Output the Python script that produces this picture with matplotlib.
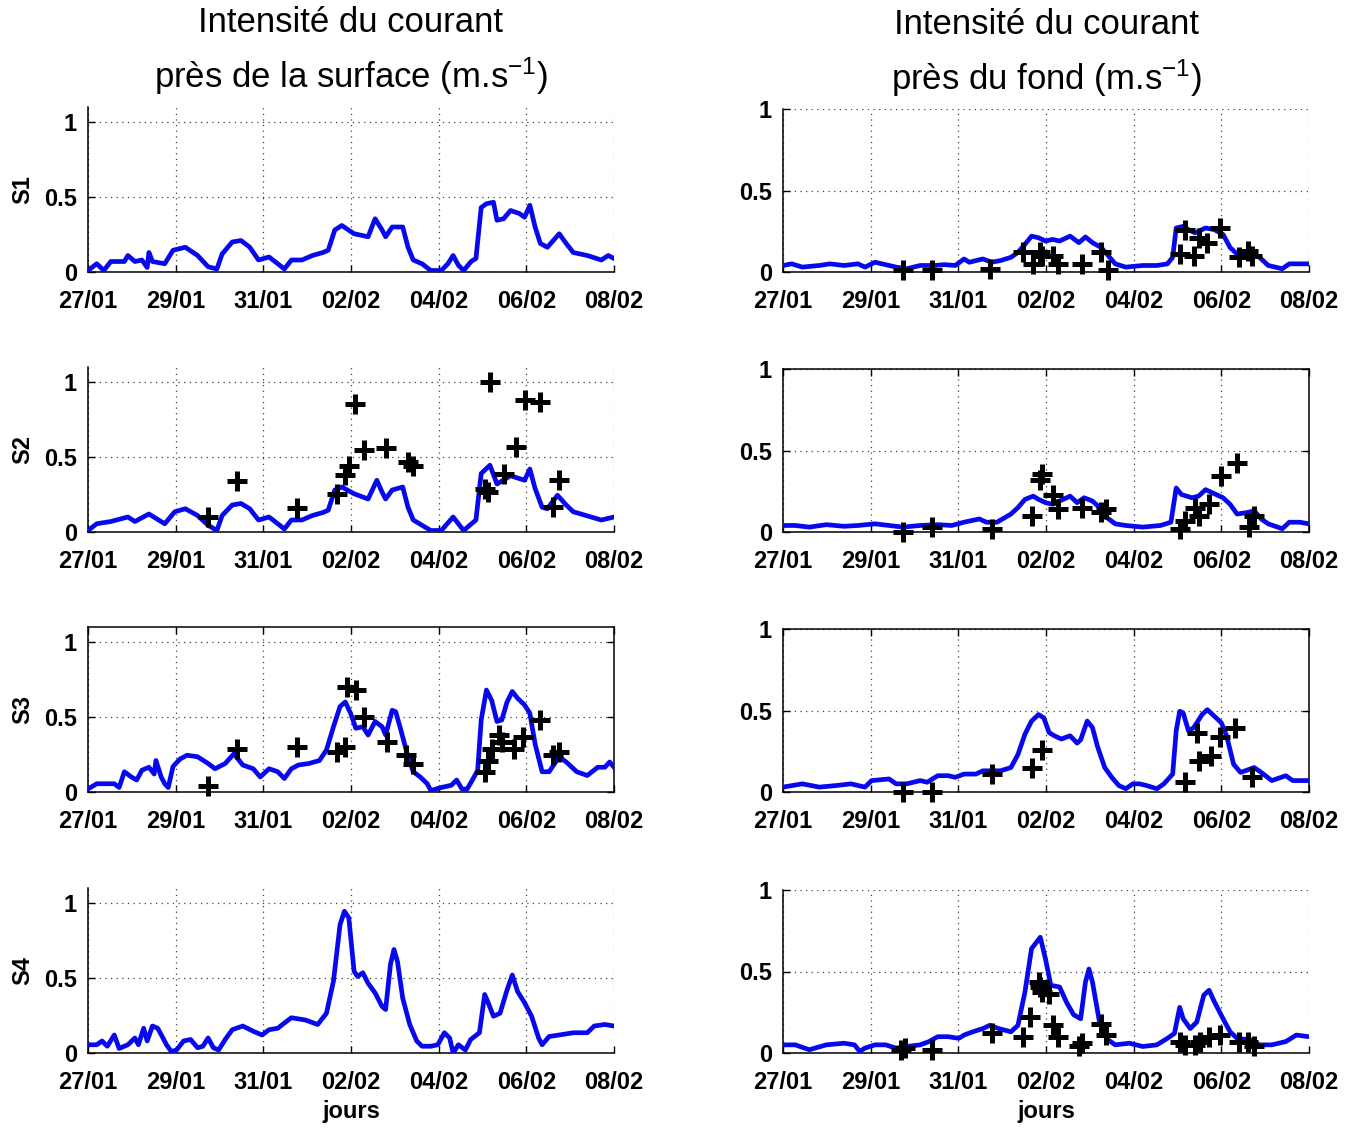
import matplotlib
matplotlib.use("Agg")
import matplotlib.pyplot as plt
from matplotlib.ticker import FormatStrFormatter

plt.rcParams["font.family"] = ["Liberation Sans", "DejaVu Sans"]
plt.rcParams["mathtext.default"] = "regular"

# x axis: days since 27/01 00:00
day_ticks = [0, 2, 4, 6, 8, 10, 12]
day_labels = ["27/01", "29/01", "31/01", "02/02", "04/02", "06/02", "08/02"]
stations = ["S1", "S2", "S3", "S4"]
col_titles = ["Intensité du courant\nprès de la surface (m.s$^{-1}$)",
              "Intensité du courant\nprès du fond (m.s$^{-1}$)"]

# ---- near surface, model (blue lines) ----
t_s1_surf = [0.00, 0.20, 0.36, 0.52, 0.83, 0.91, 1.07, 1.23, 1.35, 1.39, 1.47, 1.75, 1.94, 2.22, 2.50,
             2.74, 2.94, 3.06, 3.29, 3.49, 3.69, 3.89, 4.13, 4.33, 4.48, 4.64, 4.88, 5.12, 5.36, 5.48,
             5.63, 5.79, 6.07, 6.39, 6.55, 6.71, 6.79, 6.94, 7.10, 7.18, 7.30, 7.42, 7.62, 7.82, 8.06,
             8.21, 8.33, 8.45, 8.57, 8.74, 8.85, 8.97, 9.09, 9.25, 9.33, 9.48, 9.64, 9.84, 9.96, 10.08,
             10.20, 10.32, 10.48, 10.75, 10.91, 11.07, 11.39, 11.71, 11.87, 12.00]
v_s1_surf = [0.01, 0.055, 0.01, 0.07, 0.07, 0.11, 0.07, 0.08, 0.03, 0.13, 0.07, 0.055, 0.145, 0.165, 0.11,
             0.035, 0.02, 0.12, 0.20, 0.21, 0.165, 0.08, 0.10, 0.055, 0.02, 0.08, 0.08, 0.11, 0.13, 0.145,
             0.28, 0.31, 0.255, 0.235, 0.355, 0.28, 0.235, 0.30, 0.30, 0.30, 0.165, 0.08, 0.055, 0.01, 0.01,
             0.055, 0.11, 0.045, 0.01, 0.07, 0.09, 0.43, 0.455, 0.465, 0.345, 0.355, 0.41, 0.39, 0.365, 0.445,
             0.30, 0.19, 0.165, 0.255, 0.19, 0.13, 0.11, 0.08, 0.11, 0.09]

t_s2_surf = [0.00, 0.20, 0.52, 0.91, 1.07, 1.39, 1.75, 1.98, 2.22, 2.50, 2.74, 2.94, 3.06, 3.29, 3.49,
             3.69, 3.89, 4.13, 4.33, 4.48, 4.64, 4.88, 5.12, 5.36, 5.48, 5.63, 5.79, 6.07, 6.39, 6.59,
             6.71, 6.79, 6.94, 7.18, 7.30, 7.42, 7.82, 8.06, 8.33, 8.57, 8.85, 8.97, 9.17, 9.33, 9.64,
             9.96, 10.08, 10.20, 10.36, 10.48, 10.71, 10.91, 11.07, 11.71, 12.00]
v_s2_surf = [0.01, 0.055, 0.07, 0.10, 0.07, 0.12, 0.055, 0.135, 0.155, 0.11, 0.045, 0.01, 0.11, 0.18, 0.19,
             0.155, 0.08, 0.10, 0.055, 0.02, 0.08, 0.08, 0.11, 0.13, 0.145, 0.28, 0.30, 0.255, 0.22, 0.345,
             0.265, 0.22, 0.28, 0.30, 0.165, 0.08, 0.01, 0.01, 0.10, 0.01, 0.08, 0.39, 0.445, 0.32, 0.375,
             0.345, 0.42, 0.29, 0.165, 0.155, 0.245, 0.18, 0.135, 0.08, 0.10]

t_s3_surf = [0.00, 0.20, 0.60, 0.71, 0.83, 0.99, 1.11, 1.23, 1.39, 1.51, 1.55, 1.67, 1.75, 1.83, 1.94,
             2.10, 2.26, 2.50, 2.74, 2.90, 3.13, 3.33, 3.45, 3.53, 3.77, 3.93, 4.13, 4.33, 4.48, 4.64,
             4.80, 5.04, 5.28, 5.44, 5.60, 5.75, 5.87, 5.99, 6.11, 6.27, 6.39, 6.55, 6.71, 6.79, 6.94,
             7.02, 7.14, 7.30, 7.42, 7.58, 7.74, 7.82, 8.06, 8.29, 8.41, 8.53, 8.65, 8.77, 8.89, 8.97,
             9.09, 9.21, 9.33, 9.44, 9.56, 9.68, 9.80, 9.96, 10.08, 10.20, 10.36, 10.52, 10.75, 10.91, 11.15,
             11.39, 11.63, 11.79, 11.90, 12.00]
v_s3_surf = [0.02, 0.055, 0.055, 0.03, 0.135, 0.10, 0.08, 0.145, 0.165, 0.12, 0.21, 0.10, 0.055, 0.03, 0.17,
             0.22, 0.245, 0.235, 0.19, 0.155, 0.19, 0.255, 0.21, 0.18, 0.155, 0.10, 0.155, 0.135, 0.09, 0.155,
             0.18, 0.19, 0.21, 0.28, 0.435, 0.57, 0.60, 0.525, 0.425, 0.435, 0.38, 0.47, 0.435, 0.38, 0.545,
             0.535, 0.41, 0.235, 0.135, 0.10, 0.055, 0.01, 0.03, 0.045, 0.08, 0.02, 0.02, 0.08, 0.145, 0.48,
             0.68, 0.61, 0.47, 0.48, 0.60, 0.67, 0.625, 0.58, 0.525, 0.32, 0.135, 0.135, 0.235, 0.20, 0.135,
             0.11, 0.165, 0.165, 0.20, 0.165]

t_s4_surf = [0.00, 0.20, 0.32, 0.44, 0.60, 0.71, 0.91, 1.07, 1.15, 1.27, 1.35, 1.47, 1.59, 1.71, 1.79,
             1.90, 2.02, 2.18, 2.34, 2.50, 2.62, 2.74, 2.86, 2.98, 3.13, 3.29, 3.53, 3.77, 3.97, 4.13,
             4.33, 4.48, 4.64, 4.96, 5.24, 5.44, 5.60, 5.75, 5.85, 5.95, 6.07, 6.15, 6.27, 6.39, 6.55,
             6.71, 6.79, 6.90, 6.98, 7.06, 7.18, 7.34, 7.50, 7.62, 7.82, 7.98, 8.13, 8.25, 8.33, 8.45,
             8.61, 8.73, 8.93, 9.05, 9.13, 9.25, 9.40, 9.56, 9.68, 9.80, 9.96, 10.12, 10.28, 10.36, 10.52,
             10.75, 11.07, 11.39, 11.55, 11.79, 12.00]
v_s4_surf = [0.055, 0.055, 0.08, 0.045, 0.12, 0.03, 0.055, 0.10, 0.055, 0.165, 0.08, 0.18, 0.165, 0.10, 0.055,
             0.01, 0.02, 0.08, 0.09, 0.035, 0.045, 0.10, 0.035, 0.02, 0.09, 0.155, 0.18, 0.145, 0.12, 0.155,
             0.165, 0.20, 0.235, 0.22, 0.19, 0.265, 0.48, 0.855, 0.945, 0.90, 0.545, 0.51, 0.535, 0.465, 0.40,
             0.31, 0.29, 0.59, 0.69, 0.61, 0.365, 0.19, 0.08, 0.045, 0.045, 0.055, 0.135, 0.10, 0.0, 0.055,
             0.02, 0.09, 0.135, 0.39, 0.335, 0.245, 0.265, 0.42, 0.52, 0.41, 0.335, 0.245, 0.10, 0.055, 0.11,
             0.12, 0.135, 0.135, 0.18, 0.19, 0.18]

# ---- near bottom, model (blue lines) ----
t_s1_bot = [0.00, 0.20, 0.44, 0.83, 1.07, 1.39, 1.71, 1.87, 2.10, 2.34, 2.58, 2.82, 3.13, 3.45, 3.69,
            3.93, 4.13, 4.25, 4.56, 4.76, 4.96, 5.20, 5.36, 5.52, 5.67, 5.83, 5.99, 6.15, 6.31, 6.55,
            6.75, 6.90, 7.06, 7.26, 7.42, 7.58, 7.82, 8.21, 8.53, 8.77, 8.89, 8.97, 9.13, 9.25, 9.40,
            9.64, 9.84, 10.04, 10.20, 10.36, 10.67, 10.87, 11.07, 11.39, 11.55, 11.79, 12.00]
v_s1_bot = [0.04, 0.05, 0.03, 0.04, 0.05, 0.04, 0.05, 0.03, 0.06, 0.045, 0.03, 0.02, 0.04, 0.04, 0.045,
            0.04, 0.08, 0.06, 0.08, 0.06, 0.07, 0.09, 0.12, 0.17, 0.22, 0.21, 0.19, 0.20, 0.19, 0.22,
            0.18, 0.215, 0.18, 0.15, 0.10, 0.05, 0.03, 0.04, 0.04, 0.05, 0.09, 0.27, 0.28, 0.26, 0.24,
            0.27, 0.26, 0.23, 0.15, 0.11, 0.11, 0.09, 0.04, 0.02, 0.05, 0.05, 0.05]

t_s2_bot = [0.00, 0.28, 0.60, 0.99, 1.39, 1.71, 2.10, 2.42, 2.74, 3.13, 3.53, 3.85, 4.13, 4.48, 4.64,
            4.88, 5.20, 5.36, 5.52, 5.71, 5.83, 5.99, 6.15, 6.31, 6.55, 6.71, 6.87, 7.06, 7.22, 7.38,
            7.58, 7.82, 8.21, 8.61, 8.85, 8.97, 9.09, 9.33, 9.48, 9.64, 9.80, 10.04, 10.20, 10.36, 10.60,
            10.75, 10.91, 11.07, 11.39, 11.55, 11.79, 12.00]
v_s2_bot = [0.04, 0.04, 0.03, 0.045, 0.035, 0.04, 0.05, 0.04, 0.03, 0.04, 0.045, 0.04, 0.06, 0.08, 0.06,
            0.06, 0.11, 0.15, 0.20, 0.22, 0.20, 0.18, 0.17, 0.19, 0.22, 0.18, 0.21, 0.19, 0.15, 0.09,
            0.05, 0.04, 0.03, 0.04, 0.06, 0.27, 0.23, 0.21, 0.22, 0.26, 0.24, 0.21, 0.17, 0.11, 0.12,
            0.13, 0.08, 0.05, 0.02, 0.06, 0.06, 0.05]

t_s3_bot = [0.00, 0.44, 0.83, 1.23, 1.55, 1.87, 2.02, 2.42, 2.58, 2.82, 3.13, 3.29, 3.53, 3.77, 3.93,
            4.13, 4.40, 4.56, 4.96, 5.20, 5.36, 5.52, 5.67, 5.83, 5.95, 6.07, 6.19, 6.35, 6.55, 6.71,
            6.79, 6.94, 7.06, 7.18, 7.34, 7.50, 7.66, 7.82, 7.98, 8.13, 8.29, 8.53, 8.69, 8.89, 8.97,
            9.05, 9.13, 9.25, 9.37, 9.56, 9.68, 9.84, 10.00, 10.12, 10.28, 10.44, 10.75, 10.91, 11.15, 11.47,
            11.63, 12.00]
v_s3_bot = [0.03, 0.05, 0.03, 0.04, 0.05, 0.03, 0.07, 0.08, 0.05, 0.05, 0.07, 0.06, 0.10, 0.10, 0.09,
            0.11, 0.11, 0.13, 0.13, 0.15, 0.23, 0.355, 0.435, 0.475, 0.455, 0.365, 0.345, 0.325, 0.345, 0.30,
            0.32, 0.435, 0.395, 0.275, 0.15, 0.09, 0.04, 0.02, 0.05, 0.05, 0.04, 0.02, 0.05, 0.11, 0.375,
            0.495, 0.485, 0.375, 0.395, 0.475, 0.505, 0.465, 0.425, 0.345, 0.17, 0.12, 0.15, 0.12, 0.07, 0.10,
            0.07, 0.07]

t_s4_bot = [0.00, 0.28, 0.60, 0.99, 1.39, 1.63, 1.75, 1.87, 2.10, 2.34, 2.58, 2.82, 3.13, 3.33, 3.53,
            3.77, 4.01, 4.13, 4.33, 4.56, 4.72, 4.92, 5.20, 5.36, 5.52, 5.67, 5.87, 5.99, 6.11, 6.31,
            6.47, 6.63, 6.79, 6.90, 6.98, 7.06, 7.22, 7.42, 7.58, 7.90, 8.21, 8.53, 8.77, 8.93, 9.05,
            9.13, 9.29, 9.44, 9.60, 9.72, 9.84, 10.04, 10.20, 10.36, 10.67, 10.87, 11.15, 11.47, 11.71, 12.00]
v_s4_bot = [0.05, 0.05, 0.02, 0.05, 0.06, 0.05, 0.01, 0.03, 0.05, 0.05, 0.03, 0.04, 0.05, 0.07, 0.10,
            0.10, 0.09, 0.11, 0.13, 0.15, 0.17, 0.15, 0.13, 0.17, 0.375, 0.64, 0.71, 0.575, 0.415, 0.405,
            0.31, 0.235, 0.21, 0.435, 0.515, 0.435, 0.19, 0.08, 0.05, 0.06, 0.04, 0.05, 0.09, 0.12, 0.28,
            0.21, 0.15, 0.19, 0.355, 0.385, 0.315, 0.21, 0.13, 0.09, 0.08, 0.05, 0.05, 0.07, 0.11, 0.10]

# ---- measurements (black crosses) ----
t_s2_surf_obs = [2.74, 3.39, 4.76, 5.67, 5.87, 5.95, 6.09, 6.29, 6.80, 7.30, 7.42, 9.05, 9.13, 9.17, 9.48,
                 9.76, 9.96, 10.32, 10.60, 10.75]
v_s2_surf_obs = [0.10, 0.34, 0.16, 0.255, 0.38, 0.44, 0.855, 0.55, 0.56, 0.465, 0.44, 0.29, 0.27, 1.0, 0.39,
                 0.57, 0.88, 0.865, 0.165, 0.35]

t_s3_surf_obs = [2.74, 3.39, 4.76, 5.67, 5.87, 5.91, 6.11, 6.29, 6.83, 7.26, 7.42, 9.05, 9.13, 9.21, 9.37,
                 9.44, 9.72, 9.92, 10.32, 10.60, 10.75]
v_s3_surf_obs = [0.04, 0.29, 0.30, 0.27, 0.30, 0.70, 0.68, 0.50, 0.335, 0.245, 0.19, 0.135, 0.21, 0.29, 0.38,
                 0.335, 0.29, 0.37, 0.48, 0.245, 0.27]

t_s1_bot_obs = [2.74, 3.39, 4.72, 5.48, 5.71, 5.87, 5.91, 6.15, 6.27, 6.83, 7.26, 7.42, 9.05, 9.17, 9.37,
                9.48, 9.68, 9.96, 10.40, 10.60, 10.71]
v_s1_bot_obs = [0.01, 0.01, 0.02, 0.12, 0.05, 0.12, 0.10, 0.10, 0.05, 0.05, 0.12, 0.01, 0.11, 0.26, 0.10,
                0.21, 0.18, 0.27, 0.09, 0.13, 0.10]

t_s2_bot_obs = [2.74, 3.39, 4.76, 5.67, 5.87, 5.91, 6.15, 6.27, 6.83, 7.26, 7.38, 9.05, 9.17, 9.41, 9.48,
                9.72, 10.00, 10.36, 10.63, 10.75]
v_s2_bot_obs = [0.0, 0.03, 0.02, 0.10, 0.32, 0.355, 0.23, 0.14, 0.15, 0.12, 0.14, 0.02, 0.07, 0.15, 0.10,
                0.17, 0.345, 0.425, 0.03, 0.10]

t_s3_bot_obs = [2.74, 3.39, 4.76, 5.67, 5.91, 9.17, 9.44, 9.48, 9.76, 9.96, 10.32, 10.71]
v_s3_bot_obs = [0.0, 0.0, 0.11, 0.15, 0.255, 0.06, 0.365, 0.19, 0.22, 0.335, 0.395, 0.09]

t_s4_bot_obs = [2.70, 2.78, 3.39, 4.76, 5.48, 5.63, 5.83, 5.87, 5.91, 6.07, 6.15, 6.27, 6.75, 6.83, 7.26,
                7.38, 9.05, 9.17, 9.41, 9.52, 9.72, 9.96, 10.40, 10.60, 10.75]
v_s4_bot_obs = [0.02, 0.03, 0.02, 0.12, 0.10, 0.22, 0.435, 0.405, 0.375, 0.365, 0.17, 0.10, 0.04, 0.06, 0.18,
                0.11, 0.07, 0.05, 0.05, 0.07, 0.10, 0.11, 0.07, 0.07, 0.04]

surf_lines = [(t_s1_surf, v_s1_surf), (t_s2_surf, v_s2_surf), (t_s3_surf, v_s3_surf), (t_s4_surf, v_s4_surf)]
bot_lines = [(t_s1_bot, v_s1_bot), (t_s2_bot, v_s2_bot), (t_s3_bot, v_s3_bot), (t_s4_bot, v_s4_bot)]
surf_obs = [None, (t_s2_surf_obs, v_s2_surf_obs), (t_s3_surf_obs, v_s3_surf_obs), None]
bot_obs = [(t_s1_bot_obs, v_s1_bot_obs), (t_s2_bot_obs, v_s2_bot_obs),
           (t_s3_bot_obs, v_s3_bot_obs), (t_s4_bot_obs, v_s4_bot_obs)]
# which panels have a full box (matlab "box on")
surf_box = [False, False, True, False]
bot_box = [False, True, True, False]

fig = plt.figure(figsize=(13.57, 11.30), dpi=100)

W, H = 1357.0, 1130.0
col_left = [88, 783]
row_bottom = [272, 532, 792, 1053]
ax_w = 526
ymax_col = [1.1, 1.0]
px_per_unit = [150, 163]


def draw_panel(ax, line, obs, box, ymax):
    ax.plot(line[0], line[1], color="#0808ee", lw=3.4, zorder=3)
    if obs is not None:
        ax.plot(obs[0], obs[1], "+", color="black", ms=14, mew=3.6, zorder=4, clip_on=False)
    ax.set_xlim(0, 12)
    ax.set_ylim(0, ymax)
    ax.set_xticks(day_ticks)
    ax.set_xticklabels(day_labels)
    ax.set_yticks([0, 0.5, 1])
    ax.yaxis.set_major_formatter(FormatStrFormatter("%g"))
    ax.grid(True, color="0.25", linestyle=(0, (1, 3.5)), lw=0.9)
    ax.set_axisbelow(True)
    ax.tick_params(direction="in", length=5, width=1, labelsize=17,
                   top=box, right=box)
    ax.tick_params(axis="x", pad=13)
    ax.tick_params(axis="y", pad=8)
    for lab in ax.get_xticklabels() + ax.get_yticklabels():
        lab.set_fontweight("bold")
    for side in ["left", "bottom"]:
        ax.spines[side].set_linewidth(1.1)
    for side in ["top", "right"]:
        ax.spines[side].set_visible(box)
        ax.spines[side].set_linewidth(1.1)


for c in range(2):
    lines = surf_lines if c == 0 else bot_lines
    obs_list = surf_obs if c == 0 else bot_obs
    boxes = surf_box if c == 0 else bot_box
    for r in range(4):
        h = ymax_col[c] * px_per_unit[c]
        ax = fig.add_axes([col_left[c] / W, 1 - row_bottom[r] / H, ax_w / W, h / H])
        draw_panel(ax, lines[r], obs_list[r], boxes[r], ymax_col[c])
        if c == 0:
            ax.set_ylabel(stations[r], fontsize=17, fontweight="bold")
            ax.yaxis.set_label_coords(-0.103, 0.5)
        if r == 0:
            ax.set_title(col_titles[c], fontsize=25, linespacing=1.5, pad=14)
        if r == 3:
            ax.set_xlabel("jours", fontsize=17, fontweight="bold", labelpad=4)

fig.savefig("out.png", dpi=100)
